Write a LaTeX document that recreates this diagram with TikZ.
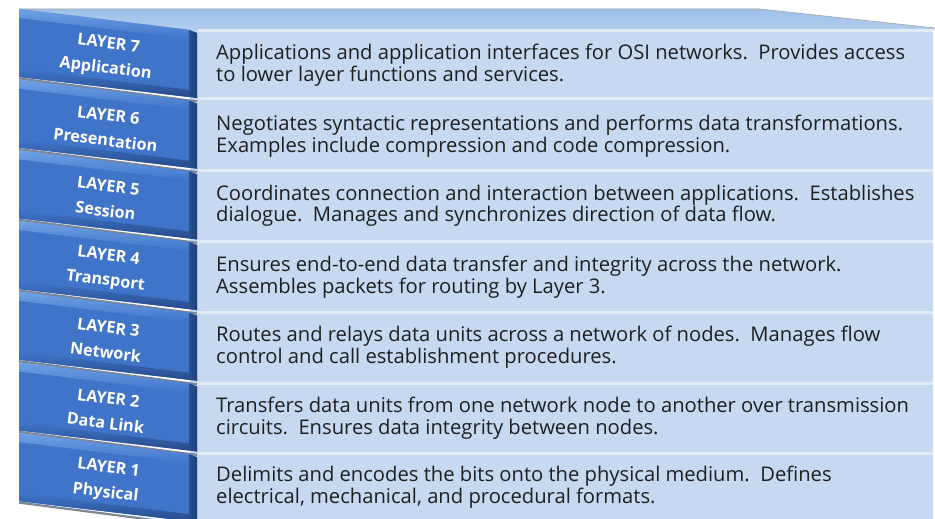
\documentclass[tikz,border=0pt]{standalone}
\usepackage{fontspec}
\setmainfont{Open Sans}
\begin{document}
\begin{tikzpicture}[x=1pt,y=-1pt,
  rowtext/.style={anchor=west,align=left,text=black!88,font=\fontsize{20.2}{21.5}\selectfont,inner sep=0pt},
  tabtext/.style={align=center,text=white,rotate=-7,font=\bfseries\fontsize{16.2}{25}\selectfont,inner sep=0pt},
  sepline/.style={draw=sepcol,line width=3pt}]
\definecolor{panel}{HTML}{C6D9F1}
\definecolor{sepcol}{HTML}{E1EAF5}
\definecolor{topA}{HTML}{9CBFE9}
\definecolor{topB}{HTML}{B5CFEE}
\definecolor{tabbody}{HTML}{3F74C9}
\definecolor{tabtop}{HTML}{70A1E5}
\definecolor{tabdark}{HTML}{213F78}
\definecolor{tabgap}{HTML}{7C8797}
\useasboundingbox (0,0) rectangle (935,519);
\fill[white] (0,0) rectangle (935,519);

% top face of the slab
\shade[top color=topA,bottom color=topB] (19,9) -- (760,9) -- (935,28) -- (933,31) -- (190,31) -- cycle;
\draw[gray!70,line width=0.6pt] (19,9) -- (760,9) -- (935,28);

% front panel with its rows
\fill[panel] (190,31) rectangle (933,519);
\foreach \y in {31,98.5,170,241,312,383,453}
  \draw[sepline] (198,\y) -- (933,\y);

% description texts
\node[rowtext] (d7) at (216,65) {Applications and application interfaces for OSI networks.\ \ Provides access\\to lower layer functions and services.};
\node[rowtext] (d6) at (216,136) {Negotiates syntactic representations and performs data transformations.\\Examples include compression and code compression.};
\node[rowtext] (d5) at (216,206) {Coordinates connection and interaction between applications.\ \ Establishes\\dialogue.\ \ Manages and synchronizes direction of data flow.};
\node[rowtext] (d4) at (216,277) {Ensures end-to-end data transfer and integrity across the network.\\Assembles packets for routing by Layer 3.};
\node[rowtext] (d3) at (216,347) {Routes and relays data units across a network of nodes.\ \ Manages flow\\control and call establishment procedures.};
\node[rowtext] (d2) at (216,418) {Transfers data units from one network node to another over transmission\\circuits.\ \ Ensures data integrity between nodes.};
\node[rowtext] (d1) at (216,487) {Delimits and encodes the bits onto the physical medium.\ \ Defines\\electrical, mechanical, and procedural formats.};

% layer tabs
\foreach \i/\num/\name in {0/7/Application,1/6/Presentation,2/5/Session,3/4/Transport,4/3/Network,5/2/Data Link,6/1/Physical}{
  \pgfmathsetmacro{\yt}{9+70.7*\i}
  \begin{scope}
    \clip (0,0) rectangle (935,519);
    % gap line under the tab
    \draw[tabgap,line width=2.2pt] (19,\yt+69.4) -- (197,\yt+92.4);
    % body
    \fill[tabbody] (19,\yt) -- (190,\yt+21) -- (197,\yt+24) -- (197,\yt+89) -- (19,\yt+68) -- cycle;
    % highlight along the top edge
    \shade[top color=tabtop,bottom color=tabbody] (19,\yt) -- (190,\yt+21) -- (190,\yt+30) -- (19,\yt+9) -- cycle;
    % darker lower edge
    \shade[top color=tabbody,bottom color=tabdark!80!tabbody] (19,\yt+60) -- (190,\yt+81) -- (197,\yt+89) -- (19,\yt+68) -- cycle;
    % shaded right side
    \shade[left color=tabdark!70!tabbody,right color=tabdark] (189,\yt+21) -- (197,\yt+24) -- (197,\yt+89) -- (189,\yt+86) -- cycle;
  \end{scope}
  \node[tabtext] (t\num) at (107,\yt+48) {LAYER \num\\\name};
}
\end{tikzpicture}
\end{document}
